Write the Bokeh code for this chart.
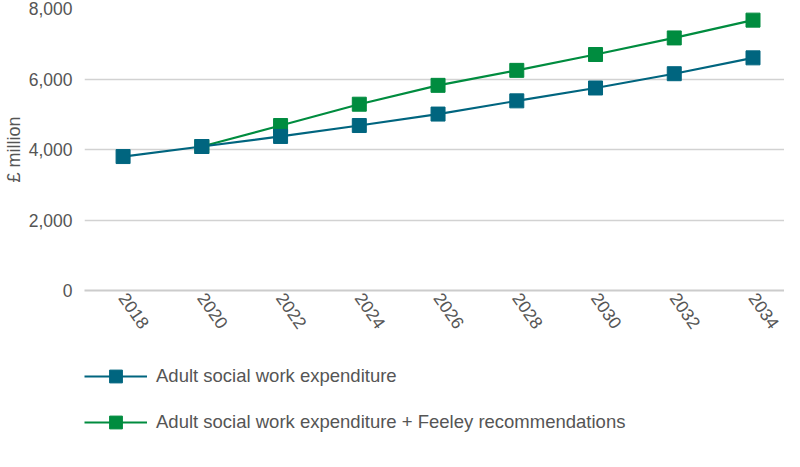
from bokeh.plotting import figure
from bokeh.layouts import column
from bokeh.models import Legend, LegendItem, FixedTicker, Range1d, NumeralTickFormatter
from bokeh.embed import file_html
from bokeh.resources import INLINE

years = [2018, 2020, 2022, 2024, 2026, 2028, 2030, 2032, 2034]
base_exp = [3800, 4085, 4370, 4680, 5005, 5380, 5745, 6150, 6600]
feeley_years = [2020, 2022, 2024, 2026, 2028, 2030, 2032, 2034]
feeley_exp = [4085, 4680, 5285, 5820, 6245, 6695, 7165, 7670]
y_ticks = [0, 2000, 4000, 6000, 8000]
series_names = ["Adult social work expenditure",
                "Adult social work expenditure + Feeley recommendations"]

BLUE = "#00657f"
GREEN = "#008c3f"
TEXT = "#555555"
FONT = "Liberation Sans"

p = figure(width=784, height=350, output_backend="svg", toolbar_location=None,
           x_range=Range1d(2017.02, 2034.8), y_range=Range1d(0, 8000),
           min_border_left=78, min_border_right=0, min_border_top=8,
           min_border_bottom=60)
p.outline_line_color = None
p.xgrid.grid_line_color = None
p.ygrid.grid_line_color = "#d2d2d2"
p.ygrid.grid_line_width = 1.5
p.ygrid.ticker = FixedTicker(ticks=y_ticks)

p.yaxis.ticker = FixedTicker(ticks=y_ticks)
p.yaxis.formatter = NumeralTickFormatter(format="0,0")
p.xaxis.ticker = FixedTicker(ticks=years)
for ax in (p.xaxis[0], p.yaxis[0]):
    ax.major_tick_line_color = None
    ax.minor_tick_line_color = None
    ax.major_tick_in = 0
    ax.major_tick_out = 0
    ax.minor_tick_in = 0
    ax.minor_tick_out = 0
    ax.major_label_text_font = FONT
    ax.major_label_text_font_size = "17.5px"
    ax.major_label_text_color = TEXT
p.yaxis.axis_line_color = None
p.xaxis.axis_line_color = "#cccccc"
p.xaxis.axis_line_width = 2
p.yaxis.major_label_standoff = 12
p.xaxis.major_label_standoff = 4
p.xaxis.major_label_orientation = -0.96
p.yaxis.axis_label = "£ million"
p.yaxis.axis_label_text_font = FONT
p.yaxis.axis_label_text_font_size = "18px"
p.yaxis.axis_label_text_font_style = "normal"
p.yaxis.axis_label_text_color = TEXT
p.yaxis.axis_label_standoff = 2

l1 = p.line(years, base_exp, line_color=BLUE, line_width=2.2)
s1 = p.scatter(years, base_exp, marker="square", size=14, fill_color=BLUE, line_color=BLUE)
l2 = p.line(feeley_years, feeley_exp, line_color=GREEN, line_width=2.2)
s2 = p.scatter(feeley_years, feeley_exp, marker="square", size=14, fill_color=GREEN, line_color=GREEN)
p.renderers.remove(l1); p.renderers.remove(s1)
p.renderers.extend([l1, s1])

# legend panel below the chart (its glyph copies fall outside its own range)
q = figure(width=784, height=110, output_backend="svg", toolbar_location=None,
           x_axis_type=None, y_axis_type=None,
           x_range=Range1d(0, 1), y_range=Range1d(0, 1),
           min_border_left=0, min_border_right=0, min_border_top=0, min_border_bottom=0)
q.grid.grid_line_color = None
q.outline_line_color = None
ql1 = q.line(years, base_exp, line_color=BLUE, line_width=2.2)
qs1 = q.scatter(years, base_exp, marker="square", size=14, fill_color=BLUE, line_color=BLUE)
ql2 = q.line(feeley_years, feeley_exp, line_color=GREEN, line_width=2.2)
qs2 = q.scatter(feeley_years, feeley_exp, marker="square", size=14, fill_color=GREEN, line_color=GREEN)

legend = Legend(items=[LegendItem(label=series_names[0], renderers=[ql1, qs1]),
                       LegendItem(label=series_names[1], renderers=[ql2, qs2])],
                location=(0, 22), orientation="vertical",
                glyph_width=63, glyph_height=32, label_height=32, spacing=14,
                label_standoff=9, padding=0, margin=0,
                border_line_color=None, background_fill_alpha=0,
                label_text_font=FONT, label_text_font_size="18.5px",
                label_text_color=TEXT)
q.add_layout(legend, "center")

layout = column(p, q, spacing=0)
open("out.html", "w").write(file_html(layout, INLINE))
